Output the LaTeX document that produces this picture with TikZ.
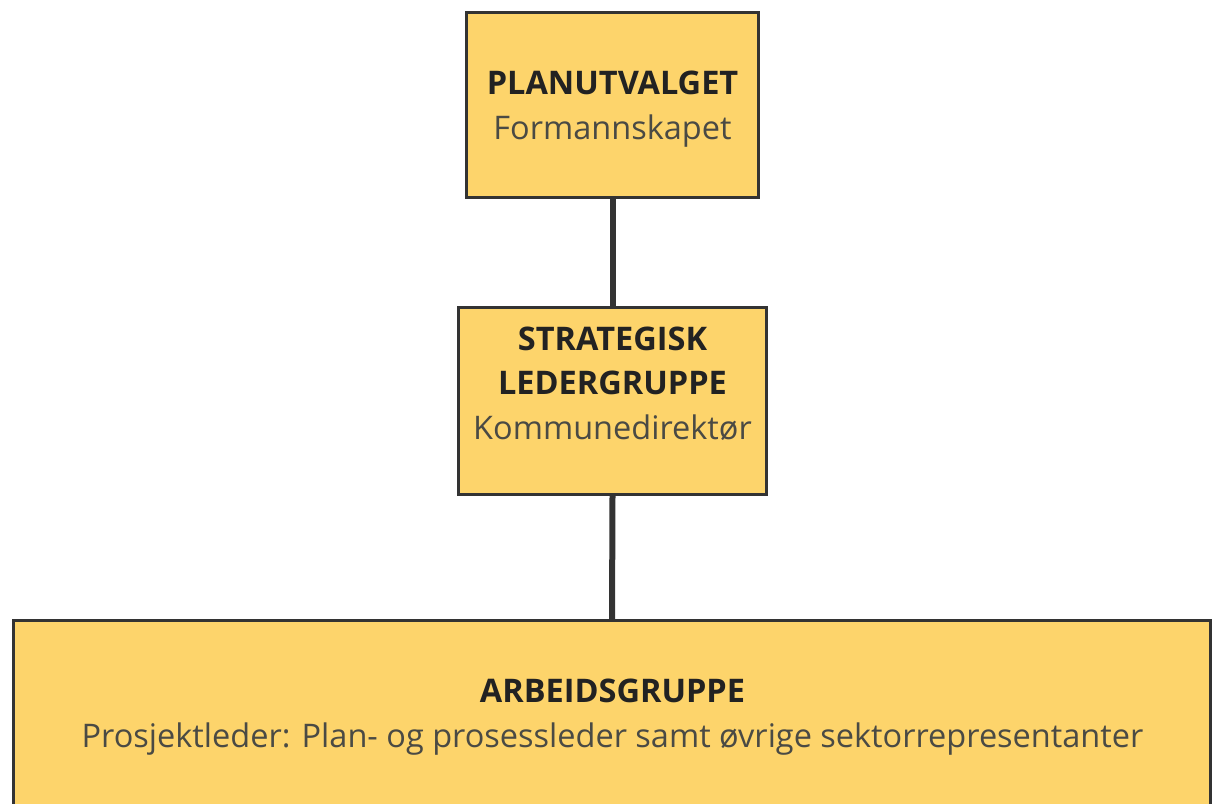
\documentclass[tikz,border=0pt]{standalone}
\usepackage{fontspec}
\setmainfont{Open Sans}
\usetikzlibrary{positioning}
\definecolor{gul}{HTML}{FDD46B}
\definecolor{kant}{HTML}{333333}
\definecolor{mork}{HTML}{222222}
\definecolor{graa}{HTML}{4A4A44}
\tikzstyle{boks} = [draw=kant, fill=gul, line width=3pt, rectangle, inner sep=0pt]
\tikzstyle{tittel} = [font=\fontsize{32.5}{44}\selectfont\bfseries, text=mork, align=center, inner sep=0pt, anchor=base]
\tikzstyle{under} = [font=\fontsize{32.5}{44}\selectfont, text=graa, inner sep=0pt, anchor=base]
\tikzstyle{linje} = [draw=kant, line width=6pt]

\begin{document}
\begin{tikzpicture}[x=1pt, y=-1pt]
	\useasboundingbox (0,0) rectangle (1215,803);
	\clip (0,0) rectangle (1215,803);
	% boksene
	\node [boks, minimum width=292pt, minimum height=185pt] (plan) at (612.5,105) {};
	\node [boks, minimum width=308pt, minimum height=187pt] (strategi) at (612.5,401) {};
	\node [boks, minimum width=1197pt, minimum height=280pt] (arbeid) at (612,760.5) {};
	% linjer mellom boksene
	\draw [linje] (plan.south) -- (strategi.north);
	\draw [linje] (strategi.south) -- (arbeid.north);
	% tekst
	\node [tittel] (plantittel) at (612.5,94) {PLANUTVALGET};
	\node [under] (planunder) at (612.5,139) {Formannskapet};
	\node [tittel] (strategitittel) at (612.5,394) {STRATEGISK\\LEDERGRUPPE};
	\node [under] (strategiunder) at (612.5,439) {Kommunedirektør};
	\node [tittel] (arbeidtittel) at (612.5,702) {ARBEIDSGRUPPE};
	\node [under] (arbeidunder) at (612.5,747) {Prosjektleder: Plan- og prosessleder samt øvrige sektorrepresentanter};
\end{tikzpicture}
\end{document}
